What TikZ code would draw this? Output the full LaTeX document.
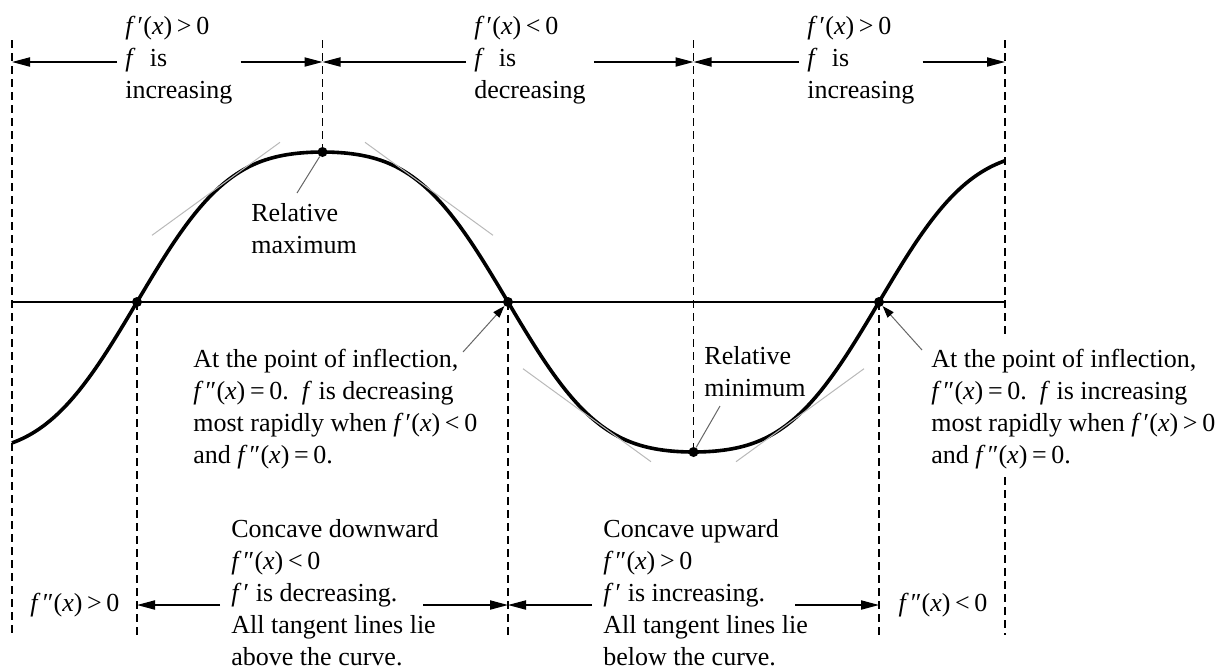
\documentclass[tikz,border=0pt]{standalone}
\usepackage{fontspec}
\setmainfont{Liberation Serif}
\usetikzlibrary{arrows.meta}

\newcommand{\fone}{\textit{f}\kern0.08em′}
\newcommand{\ftwo}{\textit{f}\kern0.08em″}
\newcommand{\ofx}{(\textit{x})}
\newcommand{\opsp}[1]{\kern0.18em#1\kern0.18em}

\begin{document}
\begin{tikzpicture}[
    x=0.5pt, y=-0.5pt,
    font=\fontsize{13}{16}\selectfont,
    txt/.style={align=left, inner sep=0pt, anchor=north west},
    uptxt/.style={txt, inner xsep=4pt},
    lowtxt/.style={txt, inner xsep=5.5pt},
    sidetxt/.style={inner sep=0pt},
    guide/.style={dash pattern=on 4pt off 2.5pt, line width=0.65pt},
    axisline/.style={line width=0.65pt},
    curve/.style={line width=1.8pt, line join=round},
    tangent/.style={draw=gray!55, line width=0.5pt},
    dot/.style={circle, fill=black, inner sep=0pt, minimum size=5pt},
    dim/.style={-{Triangle[length=9pt, width=4.6pt]}, line width=0.65pt},
    callout/.style={draw=gray!80!black, line width=0.5pt},
    callarrow/.style={callout, -{Triangle[length=6pt, width=4pt, color=black, fill=black]}}
]
\useasboundingbox (0,0) rectangle (1224,671);

% 1. Axis, curve and tangent lines
\draw[axisline] (12,302) -- (1005,302);
\draw[curve] plot[domain=12:1005, samples=240, smooth]
    (\x, {302-150*(sin((\x-137)*0.485189)+0.075*sin(3*(\x-137)*0.485189))/0.925});

\draw[tangent] (152,235.3) -- (280,142.3);
\draw[tangent] (365,142.3) -- (493,235.3);
\draw[tangent] (523,368.7) -- (651,461.7);
\draw[tangent] (736,461.7) -- (864,368.7);

% 2. Special points
\node[dot] (ip1) at (137,302) {};
\node[dot] (mx) at (322.5,152) {};
\node[dot] (ip2) at (508,302) {};
\node[dot] (mn) at (693.5,452) {};
\node[dot] (ip3) at (879,302) {};

% 3. Guide lines
\draw[guide] (12,40) -- (12,635);
\draw[guide] (ip1.center) -- (137,635);
\draw[guide] (322.5,40) -- (mx.center);
\draw[guide] (ip2.center) -- (508,635);
\draw[guide] (693.5,40) -- (mn.center);
\draw[guide] (ip3.center) -- (879,635);
\draw[guide] (1005,40) -- (1005,337);
\draw[guide] (1005,477) -- (1005,635);

% -- Top: sign of f' --
\coordinate (t0) at (12,62);
\coordinate (t1) at (322.5,62);
\coordinate (t2) at (693.5,62);
\coordinate (t3) at (1005,62);

\node[uptxt] (inc1) at (117,16) {\fone\ofx\opsp{>}0\\\textit{f}\hspace{0.55em}is\\increasing};
\draw[dim] (inc1.west |- t0) -- (t0);
\draw[dim] (inc1.east |- t1) -- (t1);

\node[uptxt] (dec) at (466,16) {\fone\ofx\opsp{<}0\\\textit{f}\hspace{0.55em}is\\decreasing};
\draw[dim] (dec.west |- t1) -- (t1);
\draw[dim] (dec.east |- t2) -- (t2);

\node[uptxt] (inc2) at (799,16) {\fone\ofx\opsp{>}0\\\textit{f}\hspace{0.55em}is\\increasing};
\draw[dim] (inc2.west |- t2) -- (t2);
\draw[dim] (inc2.east |- t3) -- (t3);

% -- Labels on the curve --
\node[txt] (maxtxt) at (251,203) {Relative\\maximum};
\coordinate (maxtxt-p) at (297,193);
\draw[callout] (maxtxt-p) -- (mx);

\node[txt] (mintxt) at (704,346) {Relative\\minimum};
\coordinate (mintxt-p) at (720,406);
\draw[callout] (mintxt-p) -- (mn);

\node[txt] (inflL) at (193,349) {At the point of inflection,\\\ftwo\ofx\opsp{=}0.\enspace\textit{f} is decreasing\\most rapidly when \fone\ofx\opsp{<}0\\and \ftwo\ofx\opsp{=}0.};
\coordinate (inflL-p) at (463,352);
\draw[callarrow] (inflL-p) -- (ip2);

\node[txt] (inflR) at (931,349) {At the point of inflection,\\\ftwo\ofx\opsp{=}0.\enspace\textit{f} is increasing\\most rapidly when \fone\ofx\opsp{>}0\\and \ftwo\ofx\opsp{=}0.};
\coordinate (inflR-p) at (922,350);
\draw[callarrow] (inflR-p) -- (ip3);

% -- Bottom: concavity --
\coordinate (b1) at (137,605);
\coordinate (b2) at (508,605);
\coordinate (b3) at (879,605);

\node[sidetxt] (cpos) at (75,605) {\ftwo\ofx\opsp{>}0};
\node[sidetxt] (cneg) at (943,605) {\ftwo\ofx\opsp{<}0};

\node[lowtxt] (cdown) at (220,519) {Concave downward\\\ftwo\ofx\opsp{<}0\\\fone\ is decreasing.\\All tangent lines lie\\above the curve.};
\coordinate (cdown-r) at (423,605);
\draw[dim] (cdown.west |- b1) -- (b1);
\draw[dim] (cdown-r) -- (b2);

\node[lowtxt] (cup) at (592,519) {Concave upward\\\ftwo\ofx\opsp{>}0\\\fone\ is increasing.\\All tangent lines lie\\below the curve.};
\coordinate (cup-r) at (795,605);
\draw[dim] (cup.west |- b2) -- (b2);
\draw[dim] (cup-r) -- (b3);

\end{tikzpicture}
\end{document}
